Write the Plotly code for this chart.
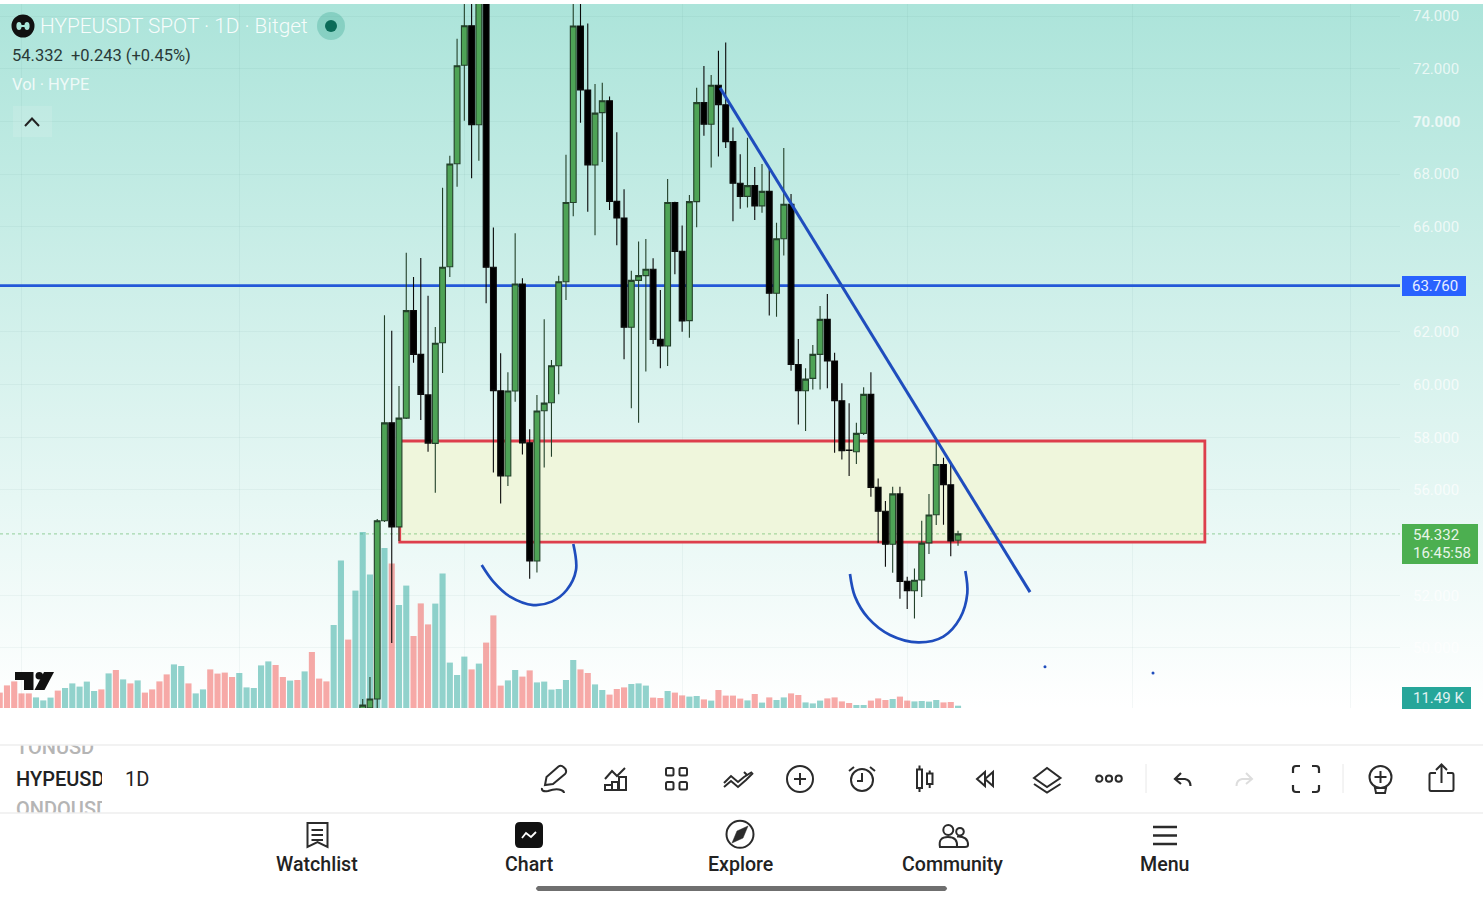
import plotly.graph_objects as go

# daily candles, oldest first
days = list(range(50, 133))
opens = [47.57, 47.72, 48.06, 54.83, 58.55, 54.60, 58.73, 62.81, 61.15, 59.61,
         57.77, 61.59, 64.48, 68.39, 72.13, 73.63, 69.87, 75.00, 64.46, 59.77,
         56.53, 59.76, 63.82, 57.79, 53.30, 59.01, 59.31, 60.72, 63.91, 66.92,
         73.62, 71.19, 68.34, 70.33, 70.78, 66.96, 66.33, 62.18, 63.96, 64.14,
         64.38, 61.72, 61.47, 66.92, 65.06, 62.43, 66.95, 70.71, 69.89, 71.37,
         70.63, 69.23, 67.65, 67.15, 67.56, 66.79, 67.34, 63.47, 65.54, 66.85,
         60.76, 59.77, 60.24, 61.15, 62.48, 60.90, 59.39, 57.52, 57.45, 58.15,
         59.63, 56.10, 55.19, 53.94, 55.85, 52.53, 52.17, 52.58, 53.99, 55.06,
         56.97, 56.20, 54.09]
highs = [48.06, 48.90, 54.90, 62.64, 62.05, 59.95, 65.01, 64.09, 64.81, 63.38,
         62.19, 67.48, 68.69, 73.14, 75.50, 75.50, 76.00, 76.00, 65.97, 61.19,
         60.47, 65.75, 64.04, 58.31, 59.61, 62.48, 60.94, 64.14, 68.73, 76.00,
         76.00, 73.72, 71.42, 71.47, 70.94, 69.59, 67.42, 64.33, 65.44, 65.53,
         64.80, 63.59, 67.81, 66.95, 66.04, 67.20, 71.28, 72.10, 71.76, 72.68,
         72.99, 69.77, 68.75, 69.38, 68.27, 68.38, 68.18, 66.15, 68.99, 67.24,
         61.73, 60.62, 61.51, 62.99, 63.44, 61.21, 60.05, 59.29, 58.55, 59.90,
         60.47, 56.44, 55.58, 56.12, 56.12, 52.70, 53.02, 54.83, 55.85, 57.93,
         57.22, 57.01, 54.45]
lows = [47.57, 47.57, 47.72, 54.78, 50.19, 54.06, 58.70, 60.83, 58.66, 57.45,
        55.89, 60.44, 64.09, 67.52, 70.02, 67.84, 68.50, 63.09, 56.66, 55.49,
        56.15, 59.35, 57.35, 52.63, 52.87, 56.85, 57.26, 59.64, 63.21, 66.40,
        69.95, 66.57, 65.67, 68.46, 66.63, 65.29, 60.96, 59.10, 58.55, 60.50,
        61.54, 60.62, 60.71, 64.19, 62.01, 61.78, 65.98, 69.45, 68.25, 68.66,
        68.99, 66.21, 66.68, 66.73, 66.25, 66.53, 62.63, 62.58, 64.90, 60.53,
        58.49, 58.24, 59.82, 59.82, 59.86, 57.41, 57.16, 56.53, 56.99, 58.09,
        55.74, 54.00, 53.08, 52.86, 51.87, 51.48, 51.12, 51.94, 53.57, 54.67,
        54.68, 53.48, 53.88]
closes = [47.83, 48.06, 54.83, 58.55, 54.60, 58.73, 62.81, 61.15, 59.63, 57.78,
          61.57, 64.46, 68.38, 72.11, 73.63, 69.87, 75.00, 64.46, 59.77, 56.53,
          59.76, 63.82, 57.79, 53.30, 59.00, 59.30, 60.72, 63.91, 66.92, 73.62,
          71.19, 68.34, 70.31, 70.78, 66.96, 66.33, 62.18, 63.96, 64.14, 64.38,
          61.72, 61.47, 66.92, 65.06, 62.42, 66.95, 70.71, 69.89, 71.37, 70.63,
          69.23, 67.65, 67.15, 67.56, 66.79, 67.34, 63.47, 65.54, 66.85, 60.77,
          59.77, 60.21, 61.15, 62.48, 60.90, 59.39, 57.49, 57.50, 58.15, 59.63,
          56.10, 55.19, 53.94, 55.85, 52.53, 52.17, 52.57, 53.98, 55.05, 56.97,
          56.20, 54.06, 54.332]

# volume in thousands, starts 50 days before the first candle
vol_days = list(range(0, 133))
volumes = [77, 113, 133, 73, 73, 53, 38, 52, 87, 100, 123, 107, 132, 85, 93, 173, 190, 143, 123, 138,
           77, 93, 133, 168, 218, 210, 123, 73, 93, 193, 172, 177, 155, 175, 103, 100, 213, 233, 215, 155,
           137, 140, 183, 280, 147, 133, 415, 738, 342, 587, 880, 668, 740, 800, 723, 515, 612, 360, 523, 418,
           522, 673, 227, 165, 257, 193, 222, 327, 463, 112, 138, 190, 157, 188, 128, 132, 92, 95, 140, 240,
           193, 175, 118, 90, 67, 95, 103, 120, 123, 112, 52, 50, 85, 77, 63, 57, 60, 43, 37, 90,
           62, 62, 47, 38, 70, 27, 53, 40, 53, 73, 65, 28, 23, 37, 48, 53, 33, 25, 15, 15,
           37, 48, 40, 45, 57, 37, 33, 35, 32, 40, 28, 30, 11.49]
red_vol_days = [0, 1, 2, 3, 4, 8, 14, 16, 18, 20, 21, 22, 23, 26, 29, 30, 31, 32, 38, 39, 41, 43, 44, 45,
                48, 54, 57, 58, 59, 65, 67, 68, 69, 72, 73, 80, 81, 84, 85, 86, 90, 91, 93, 94, 97, 99,
                100, 101, 102, 104, 106, 109, 110, 114, 115, 116, 117, 120, 121, 122, 124, 125, 130, 131]
vol_colors = ["rgba(239,83,80,0.5)" if d in red_vol_days else "rgba(38,166,154,0.5)" for d in vol_days]

# drawings on the chart, (day, price)
zone_days = [55.1, 166.0]
zone_prices = [54.02, 57.86]
trend_days = [99.22, 141.92]
trend_prices = [71.27, 52.12]
arc1_days = [66.39, 67.99, 70.29, 73.50, 76.04, 78.10, 79.38, 79.01]
arc1_prices = [53.15, 52.52, 51.95, 51.63, 51.76, 52.20, 52.96, 53.95]
arc2_days = [117.12, 117.81, 119.64, 122.63, 126.53, 129.98, 132.28, 133.28, 133.01]
arc2_prices = [52.81, 51.95, 51.13, 50.49, 50.21, 50.43, 51.13, 52.07, 52.92]
dot_days = [143.98, 158.86]
dot_prices = [49.29, 49.05]
level_price = 63.76
last_price = 54.332

price_ticks = [74, 72, 70, 68, 66, 62, 60, 58, 56, 52, 50]
month_days = [3, 33, 64, 94, 125, 156, 186]
price_range = [47.72, 74.456]
day_range = [0.04, 192.88]

W, H = 1483, 900
BLUE = "#1f4dbd"
DARK = "#2b2b2b"

fig = go.Figure()

# chart background, on the pixel axes x/y
fig.add_trace(go.Scatter(
    x=[0, W, W, 0, 0], y=[4, 4, 708, 708, 4], mode="none", fill="toself",
    fillgradient=dict(type="vertical", colorscale=[[0, "#ffffff"], [1, "#ace4da"]]),
    hoverinfo="skip", showlegend=False))

# y2 is the visible price axis, y3 volume and y5 the candles sit on top of it
fig.add_trace(go.Bar(x=vol_days, y=volumes, marker=dict(color=vol_colors, line_width=0),
                     xaxis="x2", yaxis="y3", hoverinfo="skip", showlegend=False))

fig.add_trace(go.Candlestick(
    x=days, open=opens, high=highs, low=lows, close=closes, xaxis="x2", yaxis="y5",
    increasing=dict(line=dict(color="#23412a", width=1.1), fillcolor="#4ea356"),
    decreasing=dict(line=dict(color="#0a0a0a", width=1.1), fillcolor="#000000"),
    whiskerwidth=0, hoverinfo="skip", showlegend=False))

fig.add_trace(go.Scatter(x=trend_days, y=trend_prices, mode="lines", xaxis="x2", yaxis="y5",
                         line=dict(color=BLUE, width=3), hoverinfo="skip", showlegend=False))
for ax, ay in [(arc1_days, arc1_prices), (arc2_days, arc2_prices)]:
    fig.add_trace(go.Scatter(x=ax, y=ay, mode="lines", xaxis="x2", yaxis="y5",
                             line=dict(color=BLUE, width=2.7, shape="spline", smoothing=1),
                             hoverinfo="skip", showlegend=False))
fig.add_trace(go.Scatter(x=dot_days, y=dot_prices, mode="markers", xaxis="x2", yaxis="y5",
                         marker=dict(color=BLUE, size=3), hoverinfo="skip", showlegend=False))

# symbol wheel, its own little clipped subplot
wheel = [("TONUSD", 749, "#b5b5b5"), ("HYPEUSDT", 780.5, "#222222"), ("ONDOUSD", 811, "#b5b5b5")]
fig.add_trace(go.Scatter(
    x=[16, 16, 16], y=[w[1] for w in wheel], text=[w[0] for w in wheel], mode="text",
    textposition="middle right", xaxis="x3", yaxis="y4", cliponaxis=True,
    textfont=dict(family="Roboto", size=20, color=[w[2] for w in wheel], weight=500),
    hoverinfo="skip", showlegend=False))

shapes = []


def path(d, color=DARK, width=2, fill=None):
    shapes.append(dict(type="path", path=d, xref="x", yref="y", layer="above",
                       line=dict(color=color, width=width), fillcolor=fill or "rgba(0,0,0,0)"))


def circle(cx, cy, rx, ry=None, color=DARK, width=2, fill=None):
    ry = ry or rx
    shapes.append(dict(type="circle", x0=cx - rx, x1=cx + rx, y0=cy - ry, y1=cy + ry, xref="x", yref="y",
                       layer="above", line=dict(color=color, width=width), fillcolor=fill or "rgba(0,0,0,0)"))


def rect(x0, y0, x1, y1, fill, color=None, width=0):
    shapes.append(dict(type="rect", x0=x0, x1=x1, y0=y0, y1=y1, xref="x", yref="y", layer="above",
                       line=dict(color=color or fill, width=width), fillcolor=fill))


# zone, level and last price go under the candles
shapes.append(dict(type="rect", xref="x2", yref="y2", layer="between", x0=zone_days[0], x1=zone_days[1],
                   y0=zone_prices[0], y1=zone_prices[1], fillcolor="#eff6dc",
                   line=dict(color="#dd3f4c", width=2.8)))
shapes.append(dict(type="line", xref="x2", yref="y2", layer="between", x0=day_range[0], x1=day_range[1],
                   y0=level_price, y1=level_price, line=dict(color="#2458d8", width=2.6)))
shapes.append(dict(type="line", xref="x2", yref="y2", layer="between", x0=day_range[0], x1=day_range[1],
                   y0=last_price, y1=last_price, line=dict(color="rgba(76,175,80,0.55)", width=1, dash="dot")))

# header
circle(23, 26, 11.5, color="#111111", width=0, fill="#111111")
circle(19, 26, 2.6, 4, color="#a9e5d9", width=0, fill="#a9e5d9")
circle(27, 26, 2.6, 4, color="#a9e5d9", width=0, fill="#a9e5d9")
rect(19, 25, 27, 27, "#a9e5d9")
circle(331, 26, 14, color="rgba(0,0,0,0)", width=0, fill="rgba(60,170,150,0.35)")
circle(331, 26, 6, color="#0b6b58", width=0, fill="#0b6b58")
rect(13, 106, 52, 137, "rgba(255,255,255,0.12)")
path("M25,126 L32,118.5 L39,126", color="#222222", width=2)

# TradingView mark
path("M15,672 L33.5,672 L33.5,690 L24,690 L24,680 L15,680 Z", color="#111111", width=0, fill="#111111")
circle(39.3, 675.7, 3.8, color="#111111", width=0, fill="#111111")
path("M44,672 L54,672 L44.5,690 L34.5,690 Z", color="#111111", width=0, fill="#111111")

# price tags
rect(1402, 276, 1466, 296, "#2962ff")
rect(1402, 524, 1478, 564, "#4caf50")
rect(1402, 687, 1471, 709, "#26a69a")

# dividers
path("M0,745 L1483,745", color="#eeeeee", width=1.5)
path("M0,813 L1483,813", color="#eeeeee", width=1.5)
path("M1146,764 L1146,793", color="#e8e8e8", width=1)
path("M1343,764 L1343,793", color="#e8e8e8", width=1)

# toolbar icons
path("M545,785 L546.5,777 L558.5,766.5 Q561,764.5 564,767.5 L565.5,769 Q567,772 565,774 L553,784 Z")
path("M542,788 Q541,792 548,791 Q556,788 561,790 Q564,791 564,793")
path("M605,779 L612,771 L617,776 L625,768")
path("M605,785 L612,785 L612,790 L605,790 Z M612,782 L618,782 L618,790 L612,790 Z M619,777 L626,777 L626,790 L619,790 Z")
for gx in (666, 679.5):
    for gy in (768, 782):
        path(f"M{gx + 1.5},{gy} L{gx + 6},{gy} Q{gx + 7.5},{gy} {gx + 7.5},{gy + 1.5} L{gx + 7.5},{gy + 6} "
             f"Q{gx + 7.5},{gy + 7.5} {gx + 6},{gy + 7.5} L{gx + 1.5},{gy + 7.5} Q{gx},{gy + 7.5} {gx},{gy + 6} "
             f"L{gx},{gy + 1.5} Q{gx},{gy} {gx + 1.5},{gy} Z")
path("M724,783 L731,776 L738,782 L744,777 L752,772")
path("M724,787 L731,781 L738,787 L746,780 L753,773 M744,772 L747,775")
circle(800, 779, 13)
path("M800,773 L800,785 M794,779 L806,779")
circle(862, 780, 11)
path("M862,773 L862,781 L857,781 M849,771 L854,767 M870,767 L875,771")
path("M917,769.5 L922,769.5 L922,788 L917,788 Z M919.5,765.5 L919.5,769.5 M919.5,788 L919.5,792")
path("M927,773.5 L932.5,773.5 L932.5,784 L927,784 Z M929.7,770.5 L929.7,773.5 M929.7,784 L929.7,788")
path("M977,779 L985,772 L985,786 Z M985,779 L993,772 L993,786 L985,779")
path("M1034,778 L1047,768 L1060.5,778 L1047,787 Z M1034,784 L1047,792.5 L1060.5,784")
for dx in (1099.3, 1109, 1118.7):
    circle(dx, 778.7, 3.1)
path("M1181,773 L1175,779 L1181,784 M1175,779 L1185,779 Q1190.5,780 1190.5,786", width=2.2)
path("M1246,773 L1252,779 L1246,784 M1252,779 L1242,779 Q1236.5,780 1236.5,786", color="#dddddd", width=2)
path("M1293,773 L1293,769 Q1293,766 1296,766 L1300,766 M1312,766 L1316,766 Q1319,766 1319,769 L1319,773 "
     "M1319,785 L1319,789 Q1319,792 1316,792 L1312,792 M1300,792 L1296,792 Q1293,792 1293,789 L1293,785", width=2.2)
circle(1380.5, 777, 11)
path("M1380.5,771 L1380.5,783 M1374.5,777 L1386.5,777 M1375,788 L1386,788 L1385,793 L1376,793 Z")
path("M1436,773 L1431,773 Q1429.5,773 1429.5,775 L1429.5,789 Q1429.5,791 1431,791 L1452,791 "
     "Q1453.5,791 1453.5,789 L1453.5,775 Q1453.5,773 1452,773 L1447,773")
path("M1441.5,783 L1441.5,765 M1436,770 L1441.5,764.5 L1447,770")

# bottom nav icons
path("M307.5,823 L327.5,823 L327.5,847 L317.5,842 L307.5,847 Z M311.5,830 L323,830 M311.5,835 L323,835 M311.5,840 L323,840")
path("M520,822 L538,822 Q543,822 543,827 L543,843 Q543,848 538,848 L520,848 Q515,848 515,843 L515,827 Q515,822 520,822 Z",
     color="#111111", width=0, fill="#111111")
path("M522,838 L526,833 L531,837 L536,832", color="#ffffff", width=1.8)
circle(740, 834.3, 13.5)
path("M748,826 L743,838 L732,843 L737,831 Z", color=DARK, width=0.5, fill=DARK)
circle(948.3, 830, 5)
circle(960, 831.7, 3.8)
path("M940,847 Q938,837 948,837 Q958,837 957,847 Z M957,836.5 Q968,836 968,845 Q968,847 965,847 L957,847")
path("M1153,827 L1177,827 M1153,835.5 L1177,835.5 M1153,844 L1177,844", width=2.6)
path("M538,886 L945,886 Q949,888.5 945,891 L538,891 Q534,888.5 538,886 Z", color="#6f6f6f", width=0, fill="#6f6f6f")

annotations = []


def label(x, y, text, size=15, color="#222222", anchor="left", weight=400):
    annotations.append(dict(x=x, y=y, xref="x", yref="y", text=text, showarrow=False, xanchor=anchor, yanchor="middle",
                            font=dict(family="Roboto", size=size, color=color, weight=weight)))


label(37.5, 26, "HYPEUSDT SPOT · 1D · Bitget", size=20.8, color="rgba(255,255,255,0.92)", weight=300)
label(9.5, 55, "54.332  +0.243 (+0.45%)", size=16.5, color="#2a3a38")
label(9.5, 84, "Vol · HYPE", size=16.5, color="rgba(255,255,255,0.8)")
label(1410, 286, "63.760", size=15, color="#e8eeff")
label(1411, 535, "54.332", size=15, color="#e8f5e9")
label(1411, 553, "16:45:58", size=15, color="#e8f5e9")
label(1411, 698, "11.49 K", size=15, color="#e0f2f1")
label(123, 779, "1D", size=20)
label(317, 864, "Watchlist", size=19.6, anchor="center", weight=500)
label(529, 864, "Chart", size=19.6, anchor="center", weight=500)
label(740, 864, "Explore", size=19.6, anchor="center", weight=500)
label(952, 864, "Community", size=19.6, anchor="center", weight=500)
label(1164, 864, "Menu", size=19.6, anchor="center", weight=500)

tick_text = ["<b>70.000</b>" if p == 70 else f"{p}.000" for p in price_ticks]

fig.update_layout(
    width=W, height=H, margin=dict(l=0, r=0, t=0, b=0),
    paper_bgcolor="#ffffff", plot_bgcolor="rgba(0,0,0,0)",
    bargap=0.16, boxgap=0.2, boxgroupgap=0, showlegend=False, dragmode=False, hovermode=False,
    font=dict(family="Roboto"),
    shapes=shapes, annotations=annotations,
    xaxis=dict(domain=[0, 1], range=[0, W], visible=False, fixedrange=True),
    yaxis=dict(domain=[0, 1], range=[H, 0], visible=False, fixedrange=True),
    xaxis2=dict(domain=[0, 1400 / W], anchor="y2", range=day_range, tickvals=month_days,
                showticklabels=False, ticks="", showgrid=True, gridcolor="rgba(40,90,90,0.05)",
                zeroline=False, showline=False, rangeslider=dict(visible=False), fixedrange=True),
    yaxis2=dict(domain=[1 - 708 / H, 1 - 4 / H], anchor="x2", side="right", range=price_range, tickvals=price_ticks,
                ticktext=tick_text, ticks="", ticklabelstandoff=12, showgrid=True, gridcolor="rgba(40,90,90,0.05)",
                zeroline=False, showline=False, fixedrange=True,
                tickfont=dict(family="Roboto", size=15, color="rgba(255,255,255,0.72)")),
    yaxis3=dict(overlaying="y2", anchor="x2", range=[0, 3520], visible=False, fixedrange=True),
    yaxis5=dict(overlaying="y2", anchor="x2", range=price_range, visible=False, fixedrange=True),
    xaxis3=dict(domain=[0, 102 / W], anchor="y4", range=[0, 102], visible=False, fixedrange=True),
    yaxis4=dict(domain=[1 - 813 / H, 1 - 745 / H], anchor="x3", range=[813, 745], visible=False, fixedrange=True),
)

fig.write_html("out.html", config=dict(displayModeBar=False), post_script="document.body.style.margin='0';")
